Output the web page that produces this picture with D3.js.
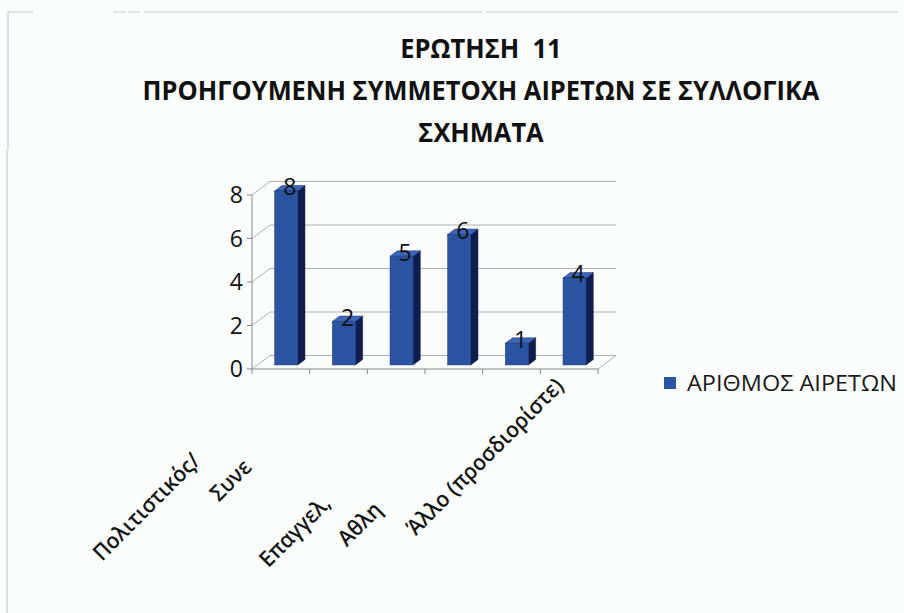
<!DOCTYPE html>
<html>
<head>
<meta charset="utf-8">
<script src="https://cdn.jsdelivr.net/npm/d3@7"></script>
<style>
  html, body { margin: 0; padding: 0; background: #fbfdfd; }
  svg { display: block; }
</style>
</head>
<body>
<svg id="chart" width="904" height="613"></svg>
<script>
// ---- data ----
const titleLines = ["ΕΡΩΤΗΣΗ\u00A0\u00A011", "ΠΡΟΗΓΟΥΜΕΝΗ ΣΥΜΜΕΤΟΧΗ ΑΙΡΕΤΩΝ ΣΕ ΣΥΛΛΟΓΙΚΑ", "ΣΧΗΜΑΤΑ"];
const categories = ["Πολιτιστικός/", "Συνε", "", "Επαγγελ,", "Αθλη", "Άλλο (προσδιορίστε)"];
const values = [8, 2, 5, 6, 1, 4];
const yTicks = [0, 2, 4, 6, 8];
const seriesName = "ΑΡΙΘΜΟΣ ΑΙΡΕΤΩΝ";

// ---- layout ----
const W = 904, H = 613;
const plot = { left: 252, right: 598, bottom: 369, top: 195 };
const depth = { dx: 18, dy: -13.5 };          // 3D depth vector of the plot
const barDepth = [0.3, 0.7];                   // bar occupies this fraction of depth
const labelBack = [122, 131, 0, 182, 191, 16]; // how far each (truncated) axis label ends before its tick
const colors = { front: "#2b54a3", side: "#101d4f", top: "#3b66ba", grid: "#adb2b6", axis: "#85898c" };
const font = "'Open Sans', 'Noto Sans', 'DejaVu Sans', sans-serif";

const svg = d3.select("#chart");
svg.append("rect").attr("width", W).attr("height", H).attr("fill", "#fbfdfd");

// faint scan border
const border = svg.append("g").attr("stroke", "#c9cccf").attr("stroke-width", 1.2).attr("fill", "none");
border.append("path").attr("d", `M8,150 V12 H33 M113,12 H126 M128,12 H140 M144,12 H483 M486,12 H898`);
border.append("path").attr("d", `M7,150 V613`);

const x = d3.scaleBand().domain(d3.range(categories.length)).range([plot.left, plot.right]).padding(0);
const y = d3.scaleLinear().domain([0, 8]).range([plot.bottom, plot.top]);

// ---- title ----
const tg = svg.append("g").attr("font-family", font).attr("font-weight", "bold").attr("fill", "#111");
const titleY = [58, 100, 142];
const tmp = tg.append("text").attr("font-size", 26).text(titleLines[1]);
const nat = tmp.node().getComputedTextLength();
tmp.remove();
const sx = 677 / nat;
titleLines.forEach((t, i) => {
  tg.append("text")
    .attr("transform", `translate(481,${titleY[i]}) scale(${sx},1)`)
    .attr("text-anchor", "middle").attr("font-size", 26).text(t);
});

// ---- walls / gridlines ----
const grid = svg.append("g").attr("stroke", colors.grid).attr("stroke-width", 1).attr("fill", "none");
yTicks.forEach(v => {
  grid.append("line").attr("x1", plot.left).attr("y1", y(v))
    .attr("x2", plot.left + depth.dx).attr("y2", y(v) + depth.dy);
  grid.append("line").attr("x1", plot.left + depth.dx).attr("y1", y(v) + depth.dy)
    .attr("x2", plot.right + depth.dx).attr("y2", y(v) + depth.dy);
});
grid.append("line").attr("x1", plot.right).attr("y1", y(0))
  .attr("x2", plot.right + depth.dx).attr("y2", y(0) + depth.dy);

// ---- axes ----
const ax = svg.append("g").attr("stroke", colors.axis).attr("stroke-width", 1);
ax.append("line").attr("x1", plot.left).attr("y1", y(0)).attr("x2", plot.left).attr("y2", y(8));
ax.append("line").attr("x1", plot.left).attr("y1", y(0)).attr("x2", plot.right).attr("y2", y(0));
yTicks.forEach(v => {
  ax.append("line").attr("x1", plot.left - 5).attr("x2", plot.left).attr("y1", y(v)).attr("y2", y(v));
});
d3.range(categories.length + 1).forEach(i => {
  const xx = i < categories.length ? x(i) : plot.right;
  ax.append("line").attr("x1", xx).attr("x2", xx).attr("y1", y(0)).attr("y2", y(0) + 5);
});

svg.append("g").attr("font-family", font).attr("font-size", 23).attr("fill", "#111")
  .selectAll("text").data(yTicks).join("text")
  .attr("x", plot.left - 9).attr("y", d => y(d) + 2)
  .attr("text-anchor", "end").attr("dominant-baseline", "middle").text(d => d);

// ---- bars ----
const bw = x.bandwidth();
const barW = bw / 2.5;
const d0x = depth.dx * barDepth[0], d0y = depth.dy * barDepth[0];
const ddx = depth.dx * (barDepth[1] - barDepth[0]), ddy = depth.dy * (barDepth[1] - barDepth[0]);
const bars = svg.append("g");
values.forEach((v, i) => {
  const fx = x(i) + (bw - barW) / 2 + d0x;
  const fTop = y(v) + d0y, fBot = y(0) + d0y;
  const g = bars.append("g");
  g.append("path").attr("fill", colors.side).attr("stroke", "#0b1538").attr("stroke-width", 0.5)
    .attr("d", `M${fx + barW},${fTop} L${fx + barW + ddx},${fTop + ddy} L${fx + barW + ddx},${fBot + ddy} L${fx + barW},${fBot} Z`);
  g.append("path").attr("fill", colors.top).attr("stroke", "#1a3170").attr("stroke-width", 0.5)
    .attr("d", `M${fx},${fTop} L${fx + ddx},${fTop + ddy} L${fx + barW + ddx},${fTop + ddy} L${fx + barW},${fTop} Z`);
  g.append("rect").attr("x", fx).attr("y", fTop).attr("width", barW).attr("height", fBot - fTop)
    .attr("fill", colors.front).attr("stroke", "#1a3170").attr("stroke-width", 0.5);
  g.append("text").attr("x", fx + barW / 2 + ddx / 2).attr("y", fTop + ddy / 2 + 1)
    .attr("text-anchor", "middle").attr("dominant-baseline", "middle")
    .attr("font-family", font).attr("font-size", 23).attr("fill", "#111").text(v);
});

// ---- category labels (rotated -45°) ----
const u = [Math.SQRT1_2, -Math.SQRT1_2], p = [Math.SQRT1_2, Math.SQRT1_2];
svg.append("g").attr("font-family", font).attr("font-size", 22).attr("font-weight", 600).attr("fill", "#161616")
  .selectAll("text").data(categories).join("text")
  .attr("transform", (d, i) => {
    const cx = x(i) + bw / 2, cy = y(0);
    const ex = cx - labelBack[i] * u[0] + 4 * p[0];
    const ey = cy - labelBack[i] * u[1] + 4 * p[1];
    return `translate(${ex},${ey}) rotate(-45) scale(0.95,1)`;
  })
  .attr("text-anchor", "end").attr("dominant-baseline", "middle").text(d => d);

// ---- legend ----
const lg = svg.append("g");
lg.append("rect").attr("x", 664).attr("y", 377).attr("width", 12).attr("height", 12).attr("fill", colors.front);
lg.append("text").attr("x", 687).attr("y", 385).attr("dominant-baseline", "middle")
  .attr("font-family", font).attr("font-size", 21).attr("fill", "#1a1a1a")
  .attr("textLength", 210).attr("lengthAdjust", "spacingAndGlyphs").text(seriesName);
</script>
</body>
</html>
